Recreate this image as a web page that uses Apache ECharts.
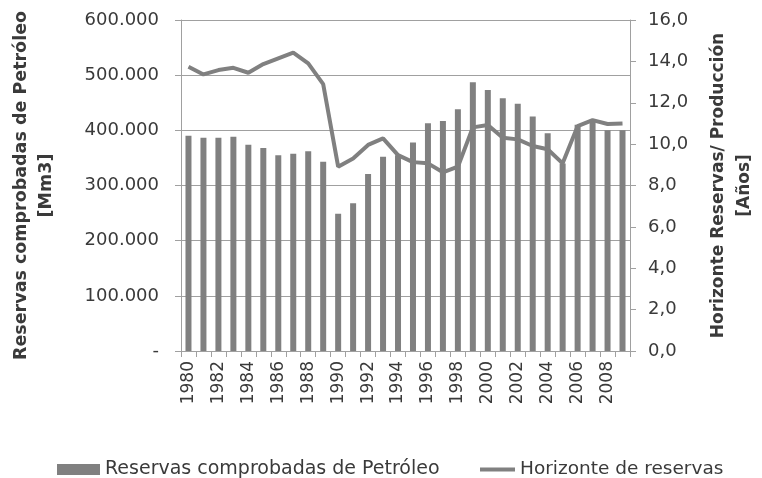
<!DOCTYPE html>
<html>
<head>
<meta charset="utf-8">
<script src="https://cdn.jsdelivr.net/npm/echarts@6/dist/echarts.min.js"></script>
<style>html,body{margin:0;padding:0;background:#fff;}#c{width:762px;height:478px;}</style>
</head>
<body>
<div id="c"></div>
<script>
var years = ['1980','1981','1982','1983','1984','1985','1986','1987','1988','1989','1990','1991','1992','1993','1994','1995','1996','1997','1998','1999','2000','2001','2002','2003','2004','2005','2006','2007','2008','2009'];
var reservas = [390000,386600,386600,388500,374000,368000,355000,357700,362000,343000,249000,267600,321000,352000,355000,378000,412700,417000,438000,487000,473000,458000,448000,425000,394600,340000,410000,419000,400000,400000];
var horizonte = [13.74,13.37,13.58,13.69,13.45,13.87,14.15,14.42,13.9,12.9,8.91,9.31,9.96,10.28,9.47,9.13,9.07,8.64,8.91,10.81,10.92,10.31,10.23,9.91,9.75,9.07,10.87,11.16,10.97,11.0];
var leftTicks = ['-','100.000','200.000','300.000','400.000','500.000','600.000'];

var txt = '#3a3a3a';
var ff = 'DejaVu Sans';
var chart = echarts.init(document.getElementById('c'));
chart.setOption({
  animation: false,
  textStyle: {fontFamily: ff, color: txt},
  grid: {left: 181, right: 132, top: 20, bottom: 127, containLabel: false, outerBoundsMode: 'none'},
  legend: [
    {
      left: 52, top: 455, itemGap: 3, itemWidth: 43, itemHeight: 11,
      textStyle: {fontFamily: ff, fontSize: 19, color: txt},
      data: [{name: 'Reservas comprobadas de Petróleo', icon: 'rect'}]
    },
    {
      left: 475, top: 455, itemGap: 3, itemWidth: 35, itemHeight: 4,
      textStyle: {fontFamily: ff, fontSize: 18.5, color: txt},
      data: [{name: 'Horizonte de reservas', icon: 'rect'}]
    }
  ],
  xAxis: {
    type: 'category', data: years,
    axisLine: {lineStyle: {color: '#a0a0a0', width: 1}},
    axisTick: {show: true, alignWithLabel: false, interval: 0, length: 6, lineStyle: {color: '#a0a0a0'}},
    axisLabel: {show: true, interval: 1, rotate: 90, fontSize: 17, color: txt, fontFamily: ff, margin: 10}
  },
  yAxis: [
    {
      type: 'value', min: 0, max: 600000, interval: 100000,
      name: 'Reservas comprobadas de Petróleo\n[Mm3]',
      nameLocation: 'middle', nameGap: 122, nameRotate: 90,
      nameTextStyle: {fontFamily: ff, fontSize: 17.5, fontWeight: 'bold', color: txt, lineHeight: 25},
      axisLine: {show: true, lineStyle: {color: '#a0a0a0'}},
      axisTick: {show: true, length: 6, lineStyle: {color: '#a0a0a0'}},
      splitLine: {lineStyle: {color: '#a0a0a0', width: 1}},
      axisLabel: {fontSize: 18, color: txt, fontFamily: ff, margin: 22,
        formatter: function (v) { return leftTicks[Math.round(v / 100000)]; }}
    },
    {
      type: 'value', min: 0, max: 16, interval: 2,
      name: 'Horizonte Reservas/ Producción\n[Años]',
      nameLocation: 'middle', nameGap: 76, nameRotate: 90,
      nameTextStyle: {fontFamily: ff, fontSize: 17, fontWeight: 'bold', color: txt, lineHeight: 26},
      axisLine: {show: true, lineStyle: {color: '#a0a0a0'}},
      axisTick: {show: true, length: 6, lineStyle: {color: '#a0a0a0'}},
      splitLine: {show: false},
      axisLabel: {fontSize: 18, color: txt, fontFamily: ff, margin: 18,
        formatter: function (v) { return v.toFixed(1).replace('.', ','); }}
    }
  ],
  series: [
    {
      name: 'Reservas comprobadas de Petróleo', type: 'bar', data: reservas,
      barWidth: 6, itemStyle: {color: '#808080'}, yAxisIndex: 0
    },
    {
      name: 'Horizonte de reservas', type: 'line', data: horizonte, yAxisIndex: 1,
      symbol: 'none', lineStyle: {color: '#808080', width: 4}, itemStyle: {color: '#808080'}
    }
  ]
});
</script>
</body>
</html>
